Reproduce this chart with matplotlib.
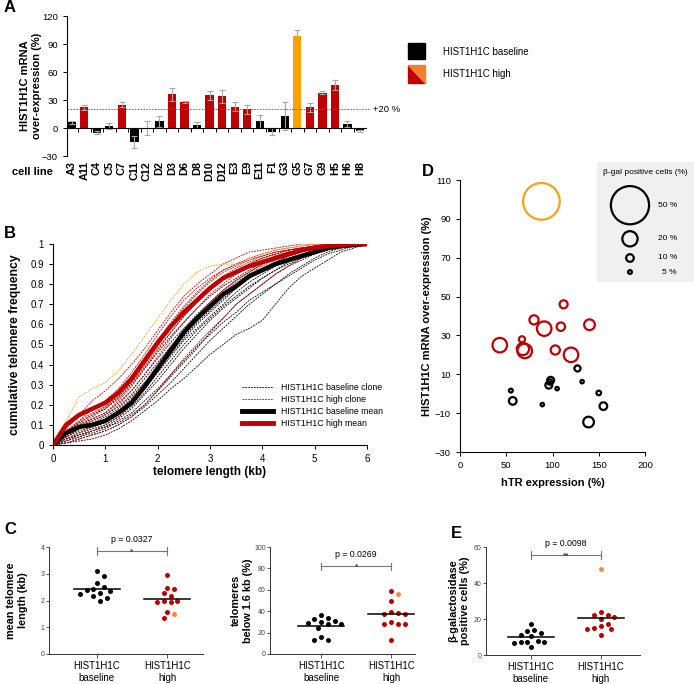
import numpy as np
import matplotlib
matplotlib.use("Agg")
import matplotlib.pyplot as plt
from matplotlib.patches import Rectangle, Polygon
from matplotlib.lines import Line2D

plt.rcParams["font.family"] = ["Liberation Sans", "DejaVu Sans"]

RED = "#c00000"
ORANGE_BAR = "#ffa200"
ORANGE_DOT = "#f4874b"
ORANGE_RING = "#f5a21b"
W, H = 694, 684

# ---- panel A: mRNA over-expression per clone
cell_lines = ["A3", "A11", "C4", "C5", "C7", "C11", "C12", "D2", "D3", "D6", "D8", "D10",
              "D12", "E3", "E9", "E11", "F1", "G3", "G5", "G7", "G9", "H5", "H6", "H8"]
mrna_over = [6, 22, -5, 2, 25, -15, 0, 7, 36, 28, 3, 35, 34, 23, 20, 7, -4, 13, 99, 22, 38, 46, 4, -3]
mrna_err = [1.5, 3, 1.5, 3, 3, 6, 7, 6, 7, 1, 3, 5, 7, 5, 5, 7, 4, 15, 6, 5, 2, 5, 3, 1]
clone_group = ["base", "high", "base", "base", "high", "base", "base", "base", "high", "high", "base", "high",
               "high", "high", "high", "base", "base", "base", "g5", "high", "high", "high", "base", "base"]

# ---- panel B: cumulative telomere length distributions
telo_kb = [0, 0.25, 0.5, 0.75, 1, 1.25, 1.5, 1.75, 2, 2.25, 2.5, 2.75, 3, 3.25, 3.5, 3.75,
           4, 4.25, 4.5, 4.75, 5, 5.25, 5.5, 5.75, 6]
base_clones = [
    [0, .01, .02, .03, .05, .08, .12, .17, .22, .28, .33, .39, .45, .50, .55, .58, .62, .70, .78, .84, .88, .92, .96, .98, 1],
    [0, .02, .04, .06, .08, .12, .16, .22, .28, .35, .42, .49, .55, .61, .66, .72, .76, .80, .84, .88, .92, .95, .97, .99, 1],
    [0, .04, .07, .09, .11, .15, .20, .28, .36, .44, .52, .58, .64, .70, .76, .81, .85, .89, .92, .94, .96, .98, .99, 1, 1],
    [0, .06, .10, .13, .16, .21, .27, .35, .43, .51, .58, .65, .71, .77, .82, .86, .90, .93, .95, .97, .98, .99, 1, 1, 1],
    [0, .03, .06, .08, .10, .14, .19, .26, .34, .42, .50, .57, .63, .69, .74, .79, .83, .87, .90, .93, .95, .97, .99, 1, 1],
    [0, .05, .09, .12, .15, .19, .25, .33, .41, .49, .57, .63, .69, .75, .80, .84, .88, .91, .94, .96, .98, .99, 1, 1, 1],
    [0, .02, .05, .07, .09, .11, .15, .20, .27, .34, .41, .48, .56, .63, .70, .75, .80, .85, .89, .92, .95, .97, .98, .99, 1],
    [0, .07, .11, .15, .18, .23, .30, .38, .46, .54, .61, .68, .74, .79, .83, .87, .91, .94, .96, .97, .99, 1, 1, 1, 1],
    [0, .01, .03, .05, .07, .10, .14, .19, .25, .31, .38, .45, .52, .58, .64, .70, .75, .80, .85, .89, .93, .96, .98, .99, 1],
    [0, .04, .08, .11, .14, .18, .24, .31, .39, .47, .54, .61, .67, .73, .78, .83, .87, .91, .94, .96, .98, .99, 1, 1, 1],
    [0, .03, .05, .07, .09, .13, .18, .25, .32, .40, .48, .55, .62, .68, .73, .78, .83, .87, .91, .94, .96, .98, .99, 1, 1],
    [0, .05, .08, .10, .13, .17, .22, .29, .37, .45, .53, .60, .66, .72, .78, .83, .87, .90, .93, .95, .97, .99, 1, 1, 1],
]
high_clones = [
    [0, .08, .15, .22, .27, .33, .40, .48, .57, .66, .74, .80, .85, .90, .93, .96, .97, .98, .99, 1, 1, 1, 1, 1, 1],
    [0, .06, .12, .18, .22, .28, .36, .45, .55, .64, .72, .78, .83, .87, .90, .92, .94, .96, .97, .98, .99, 1, 1, 1, 1],
    [0, .05, .10, .14, .18, .24, .31, .40, .49, .58, .66, .73, .79, .84, .88, .91, .93, .95, .97, .98, .99, 1, 1, 1, 1],
    [0, .04, .08, .12, .15, .20, .27, .35, .44, .53, .61, .68, .75, .80, .85, .89, .92, .94, .96, .97, .98, .99, 1, 1, 1],
    [0, .07, .12, .16, .19, .24, .31, .39, .48, .56, .64, .71, .77, .83, .87, .90, .93, .95, .97, .98, .99, 1, 1, 1, 1],
    [0, .01, .03, .05, .07, .10, .14, .20, .27, .35, .43, .50, .57, .63, .70, .75, .80, .85, .89, .93, .96, .98, .99, 1, 1],
    [0, .03, .06, .09, .12, .17, .23, .31, .40, .49, .57, .64, .71, .77, .82, .86, .90, .93, .95, .97, .98, .99, 1, 1, 1],
    [0, .06, .11, .15, .19, .25, .33, .42, .51, .60, .68, .75, .81, .86, .89, .92, .94, .96, .97, .98, .99, 1, 1, 1, 1],
    [0, .02, .04, .07, .10, .14, .20, .28, .37, .46, .55, .63, .70, .76, .81, .85, .89, .92, .94, .96, .98, .99, 1, 1, 1],
    [0, .09, .14, .18, .21, .27, .34, .43, .52, .61, .69, .76, .82, .87, .90, .93, .95, .97, .98, .99, 1, 1, 1, 1, 1],
    [0, .05, .09, .13, .16, .22, .29, .38, .47, .56, .64, .71, .77, .82, .86, .90, .93, .95, .97, .98, .99, 1, 1, 1, 1],
]
g5_clone = [0, .12, .24, .28, .31, .37, .45, .54, .63, .72, .80, .86, .89, .90, .90, .92, .95, .97, .98, .99, 1, 1, 1, 1, 1]
base_mean_cdf = [0, .06, .09, .10, .12, .16, .21, .29, .38, .47, .56, .63, .69, .75, .79, .84, .87, .90, .92, .94, .96, .98, .99, .995, 1]
high_mean_cdf = [0, .10, .15, .18, .21, .26, .33, .42, .51, .59, .66, .72, .78, .83, .86, .89, .91, .93, .95, .97, .98, .99, .995, 1, 1]

# ---- panel D: hTR vs mRNA, bubble = beta-gal positive cells
htr_high = [43, 67, 70, 68, 80, 91, 109, 112, 103, 120, 140]
mrna_high_d = [25, 28, 22, 23, 38, 33.5, 34.5, 46, 22.5, 20, 35.5]
bgal_high_d = [19, 8, 19, 16, 12, 19, 11, 10.5, 12, 19, 14]
htr_g5, mrna_g5, bgal_g5 = 88, 99, 48
htr_base = [55, 57, 89, 98, 96, 105, 127, 132, 150, 155, 139, 97]
mrna_base_d = [1.6, -3.7, -5.6, 6.9, 4.4, 2.6, 13, 6.2, 0.4, -6.4, -14.6, 6]
bgal_base_d = [5, 10, 4.5, 9, 9, 4.5, 8, 4.5, 6, 10, 14, 7]
bgal_legend = [50, 20, 10, 5]

# ---- panels C and E (first value of each "high" list is clone G5)
tl_base = [3.11, 2.93, 2.65, 2.52, 2.42, 2.39, 2.34, 2.27, 2.23, 2.17, 2.09, 1.99]
tl_high = [1.50, 2.94, 2.48, 2.44, 2.27, 2.18, 2.0, 1.93, 1.93, 2.0, 1.58, 1.35]
tl_mean = [2.43, 2.04]
short_base = [36, 34, 33, 31, 29.5, 29, 28.5, 28, 24, 16, 13, 13]
short_high = [56, 59, 50, 39, 38, 37.5, 37, 30, 28.5, 28, 28, 13]
short_mean = [25.9, 37.4]
bgal_base = [17, 14, 13.5, 12, 11, 10.5, 8, 7.5, 7, 7, 6.5, 4.5]
bgal_high = [48, 24, 22, 22, 21, 20, 17.5, 16, 15, 14.5, 14.5, 11]
bgal_mean = [9.9, 20.4]
group_labels = ["HIST1H1C\nbaseline", "HIST1H1C\nhigh"]


def rect(x0, y0, x1, y1):
    # pixel box -> figure fraction
    return [x0 / W, 1 - y1 / H, (x1 - x0) / W, (y1 - y0) / H]


fig = plt.figure(figsize=(W / 100, H / 100), dpi=100)

# ================= A
ax = fig.add_axes(rect(67, 16, 366, 156))
col_map = {"base": "black", "high": RED, "g5": ORANGE_BAR}
xs = np.arange(len(cell_lines))
ax.bar(xs, mrna_over, width=0.66, color=[col_map[g] for g in clone_group],
       yerr=mrna_err, error_kw=dict(ecolor="#a8a8a8", elinewidth=0.8, capsize=2.2, capthick=0.8))
ax.set_xlim(-0.38, 23.48)
ax.set_ylim(-30, 120)
ax.set_yticks(range(-30, 121, 30))
ax.spines[["top", "right"]].set_visible(False)
ax.spines["bottom"].set_position(("data", 0))
ax.set_xticks(np.arange(0.5, 23, 1))
ax.set_xticklabels([])
ax.tick_params(axis="x", length=3, width=0.7, direction="out")
ax.tick_params(axis="y", labelsize=6.8, length=3, width=0.7)
ax.axhline(20, xmin=0, xmax=1.01, color="#555555", lw=0.6, ls=(0, (2, 1.5)), clip_on=False)
ax.text(1.025, 20, "+20 %", transform=ax.get_yaxis_transform(), fontsize=6.8, va="center")
for i, name in enumerate(cell_lines):
    ax.text(i, -0.035, name, transform=ax.get_xaxis_transform(), rotation=90,
            ha="center", va="top", fontsize=7.8, fontweight="bold")
ax.set_ylabel("HIST1H1C mRNA\nover-expression (%)", fontsize=8, fontweight="bold")
ax.yaxis.set_label_coords(-0.084, 0.5)
fig.text(53 / W, 1 - 172 / H, "cell line", ha="right", va="center", fontsize=8, fontweight="bold")

# legend of A
fig.add_artist(Rectangle((408 / W, 1 - 59 / H), 17 / W, 16 / H, color="black", transform=fig.transFigure))
fig.add_artist(Polygon([(408 / W, 1 - 65 / H), (408 / W, 1 - 83 / H), (425 / W, 1 - 83 / H)],
                       closed=True, color=RED, transform=fig.transFigure))
fig.add_artist(Polygon([(408 / W, 1 - 65 / H), (425 / W, 1 - 65 / H), (425 / W, 1 - 83 / H)],
                       closed=True, color="#f08030", transform=fig.transFigure))
fig.text(443 / W, 1 - 52 / H, "HIST1H1C baseline", fontsize=7, va="center")
fig.text(443 / W, 1 - 74 / H, "HIST1H1C high", fontsize=7, va="center")

# ================= B
ax = fig.add_axes(rect(53, 244, 367, 445))
dash = (0, (2.2, 1.2))
for c in base_clones:
    ax.plot(telo_kb, c, color="black", lw=0.6, ls=dash)
for c in high_clones:
    ax.plot(telo_kb, c, color=RED, lw=0.6, ls=dash)
ax.plot(telo_kb, g5_clone, color=ORANGE_RING, lw=0.6, ls=dash)
ax.plot(telo_kb, base_mean_cdf, color="black", lw=3.2)
ax.plot(telo_kb, high_mean_cdf, color=RED, lw=3.2)
ax.set_xlim(0, 6)
ax.set_ylim(0, 1)
ax.set_xticks(range(0, 7))
ax.set_yticks(np.round(np.arange(0, 1.01, 0.1), 1))
ax.set_yticklabels(["0", "0.1", "0.2", "0.3", "0.4", "0.5", "0.6", "0.7", "0.8", "0.9", "1"])
ax.spines[["top", "right"]].set_visible(False)
ax.tick_params(labelsize=7, length=3, width=0.7)
ax.set_xlabel("telomere length (kb)", fontsize=8.5, fontweight="bold", labelpad=1.5)
ax.set_ylabel("cumulative telomere frequency", fontsize=8.8, fontweight="bold")
ax.yaxis.set_label_coords(-0.102, 0.5)
handles = [Line2D([], [], color="black", lw=0.6, ls=dash), Line2D([], [], color=RED, lw=0.6, ls=dash),
           Line2D([], [], color="black", lw=3.5), Line2D([], [], color=RED, lw=3.5)]
ax.legend(handles, ["HIST1H1C baseline clone", "HIST1H1C high clone",
                    "HIST1H1C baseline mean", "HIST1H1C high mean"],
          loc="upper left", bbox_to_anchor=(234 / W, 1 - 375 / H), bbox_transform=fig.transFigure,
          frameon=False, fontsize=6.3, handlelength=3.6, handletextpad=0.9, labelspacing=0.35)

# ================= D
def bubble(v):
    return (0.55 * np.asarray(v, float)) ** 2


ax = fig.add_axes(rect(460, 180, 645, 452))
ax.scatter(htr_base, mrna_base_d, s=bubble(bgal_base_d), facecolors="none", edgecolors="black", linewidths=1.6)
ax.scatter(htr_high, mrna_high_d, s=bubble(bgal_high_d), facecolors="none", edgecolors=RED, linewidths=1.6)
ax.scatter([htr_g5], [mrna_g5], s=bubble([bgal_g5]), facecolors="none", edgecolors=ORANGE_RING, linewidths=1.6)
ax.set_xlim(0, 200)
ax.set_ylim(-30, 110)
ax.set_xticks(range(0, 201, 50))
ax.set_yticks(range(-30, 111, 20))
ax.spines[["top", "right"]].set_visible(False)
ax.tick_params(labelsize=6.8, length=3, width=0.7)
ax.set_xlabel("hTR expression (%)", fontsize=8, fontweight="bold", labelpad=6)
ax.set_ylabel("HIST1H1C mRNA over-expression (%)", fontsize=8, fontweight="bold")
ax.yaxis.set_label_coords(-0.151, 0.5)

lax = fig.add_axes(rect(597, 162, 694, 282))
lax.set_facecolor("#f0f0f0")
lax.set_xlim(0, 1)
lax.set_ylim(0, 1)
lax.set_xticks([])
lax.set_yticks([])
for s in lax.spines.values():
    s.set_visible(False)
leg_y = [0.64, 0.36, 0.2, 0.083]
lax.scatter([0.34] * 4, leg_y, s=bubble(bgal_legend), facecolors="none", edgecolors="black", linewidths=1.6)
for yy, v in zip(leg_y, bgal_legend):
    lax.text(0.63 if v >= 10 else 0.67, yy, f"{v} %", fontsize=6, va="center")
lax.text(0.5, 0.915, "β-gal positive cells (%)", fontsize=6, ha="center", va="center")


# ================= C and E
def swarm(vals, ymax, h_px, step_px=6.7, d_px=6.2, unit_px=70.0):
    ypx = np.asarray(vals, float) / ymax * h_px
    cands = sorted([k * 0.5 for k in range(-10, 11)], key=lambda k: (abs(k), -k))
    placed = []
    offs = np.zeros(len(vals))
    for i in np.argsort(-ypx):
        for k in cands:
            xp = k * step_px
            if all(np.hypot(xp - px, ypx[i] - py) >= d_px for px, py in placed):
                break
        placed.append((xp, ypx[i]))
        offs[i] = xp / unit_px
    return offs


def dot_panel(box, base, high, means, ymax, ystep, ylabel, pval, stars, by, xlim, label_x):
    ax = fig.add_axes(rect(*box))
    h_px = box[3] - box[1]
    ob = swarm(base, ymax, h_px)
    oh = swarm(high, ymax, h_px)
    ax.scatter(0 + ob, base, s=13, color="black", zorder=3, linewidths=0)
    ax.scatter(1 + oh[1:], high[1:], s=13, color=RED, zorder=3, linewidths=0)
    ax.scatter(1 + oh[:1], high[:1], s=13, color=ORANGE_DOT, zorder=4, linewidths=0)
    for xc, m in zip([0, 1], means):
        ax.plot([xc - 0.33, xc + 0.33], [m, m], color="black", lw=1.1, zorder=4)
    ax.set_xlim(*xlim)
    ax.set_ylim(0, ymax)
    ax.set_yticks(np.arange(0, ymax + 0.01, ystep))
    ax.set_xticks([0, 1])
    ax.set_xticklabels(group_labels, fontsize=7, linespacing=1.3)
    ax.spines[["top", "right"]].set_visible(False)
    for s in ["left", "bottom"]:
        ax.spines[s].set_linewidth(0.7)
        ax.spines[s].set_color("#333333")
    ax.tick_params(axis="y", labelsize=5, labelcolor="#444444", length=2, width=0.6, color="#333333", pad=1)
    ax.tick_params(axis="x", length=3, width=0.6, color="#333333", pad=2)
    ax.set_ylabel(ylabel, fontsize=7.8, fontweight="bold")
    ax.yaxis.set_label_coords(label_x, 0.5)
    # significance bracket
    cap = ymax * 0.035
    ax.plot([0, 1], [by, by], color="#777777", lw=0.8, clip_on=False)
    for xc in [0, 1]:
        ax.plot([xc, xc], [by - cap, by + cap], color="#777777", lw=0.8, clip_on=False)
    ax.annotate(stars, xy=(0.5, by), xytext=(0, -1.5), textcoords="offset points",
                ha="center", va="baseline", fontsize=6, annotation_clip=False)
    ax.annotate(pval, xy=(0.5, by), xytext=(0, 8.6), textcoords="offset points",
                ha="center", va="center", fontsize=6.3, annotation_clip=False)
    return ax


dot_panel((49, 547, 203, 654), tl_base, tl_high, tl_mean, 4, 1, "mean telomere\nlength (kb)",
          "p = 0.0327", "*", 3.85, (-0.68, 1.51), -0.136)
dot_panel((270, 547, 415, 654), short_base, short_high, short_mean, 100, 20, "telomeres\nbelow 1.6 kb (%)",
          "p = 0.0269", "*", 82, (-0.73, 1.34), -0.12)
dot_panel((486, 547, 640, 655), bgal_base, bgal_high, bgal_mean, 60, 20, "β-galactosidase\npositive cells (%)",
          "p = 0.0098", "**", 55.5, (-0.64, 1.56), -0.105)

# panel letters
for lab, x, y in [("A", 4, 8), ("B", 4, 233), ("C", 4, 530), ("D", 422, 172), ("E", 451, 533)]:
    fig.text(x / W, 1 - y / H, lab, fontsize=12, fontweight="bold", va="center")

fig.savefig("out.png", dpi=100)
